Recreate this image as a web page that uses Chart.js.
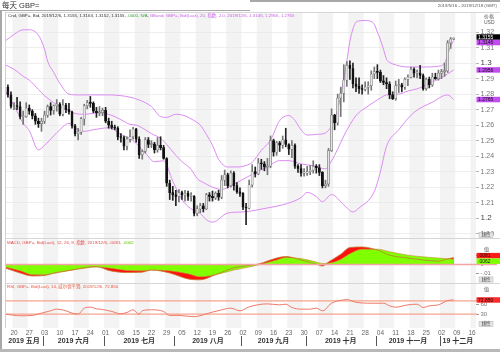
<!DOCTYPE html>
<html>
<head>
<meta charset="utf-8">
<script src="https://cdn.jsdelivr.net/npm/chart.js@4.4.1/dist/chart.umd.min.js"></script>
<style>
  html, body { margin: 0; padding: 0; background: #fff; }
  #wrap { position: relative; width: 500px; height: 352px; overflow: hidden; background: #fff; }
  #wrap canvas { position: absolute; left: 0; }
  .ln { position: absolute; pointer-events: none; }
</style>
</head>
<body>
<div id="wrap">
  <canvas id="c-main" width="500" height="238" style="top:0"></canvas>
  <canvas id="c-macd" width="500" height="46" style="top:238px"></canvas>
  <canvas id="c-rsi" width="500" height="68" style="top:284px"></canvas>
  <!-- frame -->
  <div class="ln" style="left:0;top:9.5px;width:250px;height:1.5px;background:#a8a8a8"></div>
  <div class="ln" style="left:250px;top:0;width:250px;height:1.5px;background:#a8a8a8"></div>
  <div class="ln" style="left:0;top:9.5px;width:2px;height:343px;background:#a8a8a8"></div>
  <div class="ln" style="left:5px;top:12px;width:495px;height:1px;background:#d6d6d6"></div>
  <div class="ln" style="left:5px;top:12px;width:1px;height:316px;background:#d0d0d0"></div>
  <div class="ln" style="left:5px;top:238px;width:495px;height:1px;background:#d6d6d6"></div>
  <div class="ln" style="left:5px;top:283px;width:495px;height:1px;background:#d6d6d6"></div>
  <div class="ln" style="left:0;top:349px;width:500px;height:3px;background:#b8b8b8"></div>
</div>
<script>
// ============================================================
// GBP= daily candles + BBand / MACD / RSI panels
// ============================================================
const FONT = '"Liberation Sans", Arial, "Noto Sans CJK SC", sans-serif';

// ── Candles (day 0 = 2019/5/16, weekdays only) ───────────────
const OPEN = [
  1.2845,1.2795,1.2720,1.2725,1.2720,1.2655,1.2655,1.2710,1.2690,1.2660,
  1.2625,1.2610,1.2625,1.2665,1.2720,1.2695,1.2725,1.2735,1.2670,1.2730,
  1.2700,1.2685,1.2595,1.2545,1.2555,1.2640,1.2725,1.2745,1.2740,1.2690,
  1.2680,1.2680,1.2695,1.2625,1.2600,1.2585,1.2580,1.2525,1.2520,1.2465,
  1.2510,1.2525,1.2575,1.2510,1.2410,1.2430,1.2505,1.2475,1.2480,1.2440,
  1.2470,1.2455,1.2385,1.2225,1.2165,1.2150,1.2140,1.2165,1.2150,1.2160,
  1.2140,1.2140,1.2030,1.2060,1.2080,1.2060,1.2150,1.2140,1.2130,1.2160,
  1.2135,1.2245,1.2280,1.2210,1.2290,1.2210,1.2170,1.2160,1.2070,1.2065,
  1.2215,1.2300,1.2285,1.2355,1.2350,1.2330,1.2335,1.2500,1.2425,1.2485,
  1.2470,1.2505,1.2475,1.2445,1.2470,1.2335,1.2320,1.2290,1.2290,1.2300,
  1.2310,1.2335,1.2325,1.2295,1.2210,1.2220,1.2435,1.2665,1.2615,1.2775,
  1.2805,1.2890,1.2985,1.2965,1.2865,1.2850,1.2835,1.2830,1.2845,1.2855,
  1.2930,1.2945,1.2940,1.2885,1.2875,1.2865,1.2795,1.2770,1.2855,1.2860,
  1.2845,1.2895,1.2910,1.2960,1.2935,1.2935,1.2920,1.2835,1.2895,1.2860,
  1.2910,1.2900,1.2935,1.2945,1.2950,1.3130,1.3155];
const HIGH = [
  1.2860,1.2815,1.2745,1.2780,1.2750,1.2690,1.2745,1.2730,1.2700,1.2675,
  1.2645,1.2645,1.2690,1.2730,1.2745,1.2730,1.2765,1.2745,1.2765,1.2740,
  1.2740,1.2690,1.2605,1.2580,1.2650,1.2735,1.2760,1.2785,1.2750,1.2715,
  1.2720,1.2710,1.2715,1.2645,1.2625,1.2600,1.2590,1.2545,1.2530,1.2525,
  1.2570,1.2585,1.2580,1.2525,1.2440,1.2520,1.2520,1.2500,1.2490,1.2520,
  1.2525,1.2470,1.2390,1.2245,1.2205,1.2180,1.2185,1.2175,1.2180,1.2175,
  1.2165,1.2145,1.2080,1.2095,1.2095,1.2160,1.2165,1.2175,1.2170,1.2180,
  1.2275,1.2310,1.2290,1.2305,1.2300,1.2230,1.2195,1.2165,1.2095,1.2245,
  1.2345,1.2330,1.2385,1.2380,1.2365,1.2385,1.2530,1.2510,1.2495,1.2495,
  1.2530,1.2580,1.2480,1.2500,1.2480,1.2345,1.2345,1.2320,1.2335,1.2340,
  1.2370,1.2345,1.2345,1.2300,1.2245,1.2450,1.2705,1.2670,1.2800,1.2845,
  1.2990,1.3010,1.3015,1.3000,1.2905,1.2905,1.2860,1.2880,1.2880,1.2950,
  1.2975,1.2990,1.2955,1.2920,1.2905,1.2880,1.2815,1.2885,1.2895,1.2870,
  1.2905,1.2925,1.2975,1.2970,1.2955,1.2985,1.2930,1.2905,1.2910,1.2935,
  1.2935,1.2955,1.2960,1.3000,1.3145,1.3165,1.3163];
const LOW = [
  1.2780,1.2710,1.2700,1.2700,1.2640,1.2605,1.2650,1.2670,1.2640,1.2605,
  1.2585,1.2560,1.2610,1.2650,1.2665,1.2670,1.2690,1.2660,1.2660,1.2680,
  1.2670,1.2580,1.2530,1.2505,1.2540,1.2600,1.2705,1.2715,1.2680,1.2650,
  1.2660,1.2660,1.2615,1.2580,1.2575,1.2570,1.2505,1.2490,1.2440,1.2440,
  1.2490,1.2510,1.2490,1.2385,1.2380,1.2420,1.2455,1.2455,1.2420,1.2425,
  1.2440,1.2380,1.2205,1.2120,1.2115,1.2080,1.2105,1.2120,1.2110,1.2115,
  1.2110,1.2015,1.2015,1.2035,1.2040,1.2055,1.2110,1.2110,1.2120,1.2115,
  1.2125,1.2210,1.2195,1.2200,1.2180,1.2160,1.2140,1.2055,1.1958,1.2060,
  1.2200,1.2265,1.2280,1.2315,1.2305,1.2280,1.2325,1.2400,1.2405,1.2430,
  1.2450,1.2460,1.2410,1.2390,1.2320,1.2295,1.2270,1.2270,1.2275,1.2280,
  1.2290,1.2290,1.2275,1.2195,1.2195,1.2205,1.2430,1.2570,1.2600,1.2655,
  1.2750,1.2850,1.2895,1.2840,1.2815,1.2805,1.2800,1.2820,1.2800,1.2825,
  1.2900,1.2900,1.2875,1.2860,1.2835,1.2770,1.2765,1.2760,1.2810,1.2815,
  1.2830,1.2855,1.2905,1.2910,1.2905,1.2900,1.2825,1.2825,1.2840,1.2850,
  1.2895,1.2890,1.2900,1.2915,1.2940,1.3095,1.3152];
const CLOSE = [
  1.2795,1.2720,1.2725,1.2720,1.2655,1.2655,1.2710,1.2690,1.2660,1.2625,
  1.2610,1.2625,1.2665,1.2720,1.2695,1.2725,1.2735,1.2670,1.2730,1.2700,
  1.2685,1.2595,1.2545,1.2555,1.2640,1.2725,1.2745,1.2740,1.2690,1.2680,
  1.2680,1.2695,1.2625,1.2600,1.2585,1.2580,1.2525,1.2520,1.2465,1.2510,
  1.2525,1.2575,1.2510,1.2410,1.2430,1.2505,1.2475,1.2480,1.2440,1.2470,
  1.2455,1.2385,1.2225,1.2165,1.2150,1.2140,1.2165,1.2150,1.2160,1.2140,
  1.2140,1.2030,1.2060,1.2080,1.2060,1.2150,1.2140,1.2130,1.2160,1.2135,
  1.2245,1.2280,1.2210,1.2290,1.2210,1.2170,1.2160,1.2070,1.2065,1.2215,
  1.2300,1.2285,1.2355,1.2350,1.2330,1.2335,1.2500,1.2425,1.2485,1.2470,
  1.2505,1.2475,1.2445,1.2470,1.2335,1.2320,1.2290,1.2290,1.2300,1.2310,
  1.2335,1.2325,1.2295,1.2210,1.2220,1.2435,1.2665,1.2615,1.2775,1.2805,
  1.2890,1.2985,1.2965,1.2865,1.2850,1.2835,1.2830,1.2845,1.2855,1.2930,
  1.2945,1.2940,1.2885,1.2875,1.2865,1.2795,1.2770,1.2855,1.2860,1.2845,
  1.2895,1.2910,1.2960,1.2935,1.2935,1.2920,1.2835,1.2895,1.2860,1.2910,
  1.2900,1.2935,1.2945,1.2950,1.3130,1.3155,1.3155];

// ── Bollinger bands (20, 2.0), read at sample days ───────────
const UPPER_DAY = [-1,2,5,7,10,12,13,15,17,20,23,27,33,37,40,43,47,50,52,55,58,60,63,65,67,69,72,75,78,80,83,86,89,92,94,96,98,101,104,106,108,109,110,111,112,113,114,115,117,119,120,121,122,123,124,125,126,131,136,141,143,144,145,146];
const UPPER = [1.3140,1.3185,1.3215,1.3215,1.3180,1.3090,1.3013,1.2940,1.2870,1.2800,1.2795,1.2795,1.2795,1.2790,1.2780,1.2762,1.2720,1.2655,1.2650,1.2670,1.2660,1.2640,1.2600,1.2540,1.2470,1.2380,1.2330,1.2330,1.2340,1.2360,1.2437,1.2503,1.2629,1.2662,1.2630,1.2570,1.2536,1.2540,1.2550,1.2596,1.2700,1.2790,1.2900,1.3013,1.3140,1.3220,1.3265,1.3272,1.3275,1.3268,1.3250,1.3200,1.3150,1.3090,1.3025,1.3005,1.2995,1.2975,1.2975,1.2980,1.3000,1.3050,1.3110,1.3146];
const MID_DAY = [-1,2,5,7,10,12,15,17,20,22,25,30,32,35,37,40,42,45,47,50,52,55,57,60,62,64,67,70,74,79,85,89,92,96,100,104,106,108,110,114,117,120,122,124,128,131,134,136,139,141,144,146];
const MID = [1.2990,1.2960,1.2915,1.2890,1.2830,1.2790,1.2745,1.2720,1.2695,1.2675,1.2670,1.2680,1.2675,1.2655,1.2635,1.2605,1.2600,1.2570,1.2545,1.2515,1.2475,1.2405,1.2365,1.2315,1.2255,1.2230,1.2200,1.2185,1.2219,1.2272,1.2331,1.2371,1.2371,1.2350,1.2338,1.2318,1.2370,1.2445,1.2530,1.2662,1.2710,1.2750,1.2775,1.2795,1.2800,1.2820,1.2834,1.2850,1.2880,1.2895,1.2930,1.2956];
const LOWER_DAY = [-1,2,5,7,10,12,15,17,20,22,25,28,33,37,41,45,48,51,54,57,60,63,65,67,72,77,85,90,96,98,101,103,106,110,113,115,120,122,124,128,133,139,144,146];
const LOWER = [1.2825,1.2726,1.2613,1.2564,1.2440,1.2470,1.2530,1.2570,1.2612,1.2580,1.2560,1.2570,1.2583,1.2540,1.2500,1.2420,1.2364,1.2370,1.2238,1.2120,1.2060,1.2030,1.1990,1.1974,1.2033,1.2040,1.2066,1.2086,1.2132,1.2166,1.2139,1.2106,1.2152,1.2086,1.2040,1.2066,1.2172,1.2300,1.2464,1.2570,1.2682,1.2748,1.2795,1.2765];

// ── MACD (12, 26, 9) ──────────────────────────────────────────
const MACD_DAY = [-1,4,8,12,15,21,26,29,33,39,44,47,53,59,63,68,74,79,82,88,91,96,101,103,105,109,112,116,121,125,131,136,141,144,146];
const MACD   = [-0.0040,-0.0100,-0.0135,-0.0130,-0.0100,-0.0065,-0.0030,-0.0025,-0.0070,-0.0095,-0.0090,-0.0065,-0.0100,-0.0170,-0.0180,-0.0120,-0.0040,-0.0010,0.0005,0.0076,0.0094,0.0053,0.0005,-0.0018,0.0030,0.0120,0.0200,0.0206,0.0170,0.0110,0.0076,0.0053,0.0040,0.0065,0.0081];
const SIGNAL = [-0.0030,-0.0075,-0.0120,-0.0120,-0.0105,-0.0065,-0.0040,-0.0030,-0.0040,-0.0070,-0.0075,-0.0065,-0.0075,-0.0110,-0.0145,-0.0120,-0.0065,-0.0030,-0.0006,0.0052,0.0082,0.0070,0.0030,0.0012,0.0015,0.0060,0.0125,0.0180,0.0180,0.0150,0.0110,0.0090,0.0076,0.0068,0.0062];

// ── RSI (14) ──────────────────────────────────────────────────
const RSI_DAY = [-1,4,8,11,14,16,19,21,23,25,27,29,31,34,37,39,41,43,44,47,51,53,56,61,64,67,70,73,76,79,85,89,91,93,96,99,101,103,104,105,106,108,110,111,112,114,119,123,125,127,131,134,136,138,141,144,146];
const RSI = [30,25,26,33,40,45,40,33,30,48,51,46,44,38,31,35,43,30,40,43,38,26,26,22,28,36,43,48,40,52,61,58,60,50,45,45,48,40,44,55,63,70,73,75,72,66,63,63,55,51,58,60,50,55,58,71,72.85];
const RSI_LEVELS = [70, 30];

// ── Axis labels ───────────────────────────────────────────────
const PRICE_TICKS = [1.19,1.20,1.21,1.22,1.23,1.24,1.25,1.26,1.27,1.28,1.29,1.30,1.31,1.32];
const MACD_TICKS  = [-0.01, 0, 0.01];
const RSI_TICKS   = [30, 60];
const WEEK_LABELS = ['20','27','03','10','17','24','01','08','15','22','29','05','12','19','26','02','09','16','23','30','07','14','21','28','04','11','18','25','02','09','16'];
const MONTH_LABELS = ['2019 五月','2019 六月','2019 七月','2019 八月','2019 九月','2019 十月','2019 十一月','19 十二月'];
const MONTH_START  = [-1, 12, 32, 55, 77, 98, 121, 142];
const WEEK_DAYS = WEEK_LABELS.map((_, i) => 2 + 5 * i);   // Mondays

const X_MIN = -0.95, X_MAX = 153.3;
const BB_COLOR = '#dc8cf2';

// ── Helpers ───────────────────────────────────────────────────
const pts = (days, vals) => days.map((d, i) => ({ x: d, y: vals[i] }));
const isMajor = c => !!(c && c.tick) && Math.round(c.tick.value * 100) % 10 === 0;

function fixY(scale) {
  scale.width = 24;
  scale.paddingTop = 0;
  scale.paddingBottom = 0;
}

function xScale(show) {
  return {
    type: 'linear', min: X_MIN, max: X_MAX, offset: false, display: show,
    grid: { display: false, drawTicks: false }, border: { display: false },
  };
}

function makeStripes(top, bottom) {
  return {
    id: 'stripes',
    beforeDraw(chart) {
      const { ctx, chartArea: a, scales: { x } } = chart;
      ctx.save();
      ctx.fillStyle = '#fff';
      ctx.fillRect(0, 0, chart.width, chart.height);
      ctx.fillStyle = '#f3f3f3';
      WEEK_DAYS.forEach((d, i) => {
        if (i % 2) return;
        const x0 = Math.max(x.getPixelForValue(d - 0.5), a.left);
        const x1 = Math.min(x.getPixelForValue(d + 4.5), a.right);
        if (x1 > x0) ctx.fillRect(x0, top, x1 - x0, bottom - top);
      });
      ctx.restore();
    },
  };
}

function drawSegments(ctx, x, y, segs, size) {
  ctx.font = `${size}px ${FONT}`;
  ctx.textBaseline = 'middle';
  ctx.textAlign = 'left';
  segs.forEach(([t, c]) => {
    ctx.fillStyle = c;
    ctx.fillText(t, x, y);
    x += ctx.measureText(t).width;
  });
}

// value tags on the right axis, pushed apart when they overlap
function drawTags(ctx, scale, tags) {
  const h = 5.5;
  const items = tags.map(t => ({ ...t, y: scale.getPixelForValue(t.v) })).sort((a, b) => a.y - b.y);
  for (let i = 1; i < items.length; i++) {
    const gap = items[i].y - items[i - 1].y;
    if (gap < h) {
      const d = (h - gap) / 2;
      items[i - 1].y -= d; items[i].y += d;
    }
  }
  ctx.font = `5px ${FONT}`;
  ctx.textBaseline = 'middle';
  ctx.textAlign = 'left';
  items.forEach(t => {
    ctx.fillStyle = t.bg;
    ctx.fillRect(476.5, t.y - h / 2, 23.5, h);
    ctx.fillStyle = t.fg;
    ctx.fillText(t.text, 478, t.y + 0.3);
  });
}

function drawAxisNote(ctx, text, y) {
  ctx.font = `5px ${FONT}`;
  ctx.textBaseline = 'middle';
  ctx.textAlign = 'left';
  ctx.fillStyle = '#555';
  ctx.fillText(text, 484, y);
}

function drawScaleBox(ctx, y) {
  ctx.fillStyle = '#e6e6e6';
  ctx.fillRect(479, y - 2.6, 14, 5.2);
  ctx.strokeStyle = '#b0b0b0';
  ctx.lineWidth = 0.5;
  ctx.strokeRect(479, y - 2.6, 14, 5.2);
  ctx.font = `4.6px ${FONT}`;
  ctx.textBaseline = 'middle';
  ctx.textAlign = 'left';
  ctx.fillStyle = '#444';
  ctx.fillText('线性', 481.5, y + 0.2);
}

const baseOpts = (padding) => ({
  responsive: false,
  animation: false,
  devicePixelRatio: 1,
  layout: { padding },
  plugins: { legend: { display: false }, tooltip: { enabled: false } },
});

const last = a => a[a.length - 1];

// ── Main price panel ──────────────────────────────────────────
const mainText = {
  id: 'mainText',
  afterDraw(chart) {
    const { ctx, scales: { y } } = chart;
    ctx.save();
    ctx.font = `7.5px ${FONT}`;
    ctx.textBaseline = 'middle';
    ctx.fillStyle = '#333';
    ctx.fillText('每天 GBP=', 2, 5.5);
    ctx.font = `4.4px ${FONT}`;
    ctx.textAlign = 'right';
    ctx.fillStyle = '#555';
    ctx.fillText('2019/5/16 - 2019/12/18 (GMT)', 497, 6);

    const n = CLOSE.length - 1;
    drawSegments(ctx, 8, 15.5, [
      [`Cnd, GBP=, Bid, 2019/12/6, ${OPEN[n].toFixed(4)}, ${HIGH[n].toFixed(4)}, ${LOW[n].toFixed(4)}, ${CLOSE[n].toFixed(4)}, `, '#333'],
      ['.0000, N/A, ', '#3c9c3c'],
      [`BBand, GBP=, Bid(Last), 20, 指数, 2.0, 2019/12/6, ${last(UPPER).toFixed(4)}, ${last(MID).toFixed(4)}, ${last(LOWER).toFixed(4)}`, '#c860e8'],
    ], 4.4);

    drawAxisNote(ctx, '价格', 17);
    drawAxisNote(ctx, 'USD', 22.5);
    drawTags(ctx, y, [
      { v: CLOSE[n], text: CLOSE[n].toFixed(4), bg: '#000', fg: '#fff' },
      { v: last(UPPER), text: last(UPPER).toFixed(4), bg: '#c24cf0', fg: '#111' },
      { v: last(MID), text: last(MID).toFixed(4), bg: '#c24cf0', fg: '#111' },
      { v: last(LOWER), text: last(LOWER).toFixed(4), bg: '#c24cf0', fg: '#111' },
    ]);
    drawScaleBox(ctx, 235);
    ctx.restore();
  },
};

const upCol = OPEN.map((o, i) => CLOSE[i] >= o);

new Chart(document.getElementById('c-main'), {
  type: 'bar',
  data: {
    datasets: [
      { type: 'line', label: 'BB upper', data: pts(UPPER_DAY, UPPER), borderColor: BB_COLOR, borderWidth: 1, pointRadius: 0, cubicInterpolationMode: 'monotone', order: 5 },
      { type: 'line', label: 'BB mid',   data: pts(MID_DAY, MID),     borderColor: BB_COLOR, borderWidth: 1, pointRadius: 0, cubicInterpolationMode: 'monotone', order: 5 },
      { type: 'line', label: 'BB lower', data: pts(LOWER_DAY, LOWER), borderColor: BB_COLOR, borderWidth: 1, pointRadius: 0, cubicInterpolationMode: 'monotone', order: 5 },
      {
        label: 'wick',
        data: CLOSE.map((c, i) => ({ x: i, y: [LOW[i], HIGH[i]] })),
        backgroundColor: upCol.map(u => u ? '#777' : '#222'),
        barThickness: 1, grouped: false, order: 2,
      },
      {
        label: 'body',
        data: CLOSE.map((c, i) => ({ x: i, y: [OPEN[i], c] })),
        backgroundColor: upCol.map(u => u ? '#e4e4e4' : '#111'),
        borderColor: upCol.map(u => u ? '#666' : '#111'),
        borderWidth: 0.5, borderSkipped: false,
        barThickness: 2.2, minBarLength: 1, grouped: false, order: 1,
      },
    ],
  },
  options: {
    ...baseOpts({ left: 5, right: 0, top: 20, bottom: 2 }),
    scales: {
      x: xScale(false),
      y: {
        position: 'right', min: 1.18848, max: 1.32781,
        afterFit: fixY,
        afterBuildTicks: s => { s.ticks = PRICE_TICKS.map(v => ({ value: v })); },
        grid: { color: '#e6e6e6', lineWidth: 0.7, drawTicks: true, tickLength: 3, tickColor: '#999' },
        border: { display: false },
        ticks: {
          autoSkip: false, padding: 1.5,
          color: c => (isMajor(c) ? '#444' : '#777'),
          font: c => ({ family: FONT, size: isMajor(c) ? 8 : 7 }),
          callback: v => v.toFixed(2).replace(/0$/, ''),
        },
      },
    },
  },
  plugins: [makeStripes(12, 238), mainText],
});

// ── MACD panel ────────────────────────────────────────────────
const macdText = {
  id: 'macdText',
  afterDraw(chart) {
    const { ctx, chartArea: a, scales: { y } } = chart;
    ctx.save();
    const y0 = y.getPixelForValue(0);
    ctx.strokeStyle = '#f4a4a4';
    ctx.lineWidth = 1.4;
    ctx.beginPath(); ctx.moveTo(a.left, y0); ctx.lineTo(497, y0); ctx.stroke();
    const m = last(MACD), s = last(SIGNAL);
    const fmt = v => v.toFixed(4).replace('0.', '.');
    drawSegments(ctx, 7, 4.5, [
      [`MACD, GBP=, Bid(Last), 12, 26, 9, 指数, 2019/12/6, ${fmt(m)}, `, '#e84a4a'],
      [fmt(s), '#5cc000'],
    ], 4.4);
    drawAxisNote(ctx, '值', 12);
    drawTags(ctx, y, [
      { v: m, text: fmt(m), bg: '#ff1a1a', fg: '#111' },
      { v: s, text: fmt(s), bg: '#80ff00', fg: '#111' },
    ]);
    drawScaleBox(ctx, 41.5);
    ctx.restore();
  },
};

new Chart(document.getElementById('c-macd'), {
  type: 'line',
  data: {
    datasets: [
      { label: 'MACD', data: pts(MACD_DAY, MACD), fill: 'origin', backgroundColor: '#ff1010', borderWidth: 0, pointRadius: 0, cubicInterpolationMode: 'monotone', order: 3 },
      { label: 'Signal', data: pts(MACD_DAY, SIGNAL), fill: 'origin', backgroundColor: '#7fff00', borderColor: '#d08a3a', borderWidth: 0.6, pointRadius: 0, cubicInterpolationMode: 'monotone', order: 2 },
      { label: 'MACD line', data: pts(MACD_DAY, MACD), fill: false, borderColor: '#c47a30', borderWidth: 0.8, pointRadius: 0, cubicInterpolationMode: 'monotone', order: 1 },
    ],
  },
  options: {
    ...baseOpts({ left: 5, right: 0, top: 8, bottom: 3 }),
    scales: {
      x: xScale(false),
      y: {
        position: 'right', min: -0.01941, max: 0.02176,
        afterFit: fixY,
        afterBuildTicks: s => { s.ticks = MACD_TICKS.map(v => ({ value: v })); },
        grid: { drawOnChartArea: false, drawTicks: true, tickLength: 3, tickColor: '#999' },
        border: { display: false },
        ticks: {
          autoSkip: false, padding: 1.5, color: '#777', font: { family: FONT, size: 6 },
          callback: v => (v === 0 ? '0' : v.toFixed(2).replace('0.', '.')),
        },
      },
    },
  },
  plugins: [makeStripes(0, 46), macdText],
});

// ── RSI panel + date axis ─────────────────────────────────────
const rsiText = {
  id: 'rsiText',
  beforeDatasetsDraw(chart) {
    const { ctx, chartArea: a, scales: { y } } = chart;
    ctx.save();
    ctx.strokeStyle = '#f6a48e';
    ctx.lineWidth = 1.3;
    RSI_LEVELS.forEach(v => {
      const yy = y.getPixelForValue(v);
      ctx.beginPath(); ctx.moveTo(a.left, yy); ctx.lineTo(a.right + 1, yy); ctx.stroke();
    });
    ctx.restore();
  },
  afterDraw(chart) {
    const { ctx, chartArea: a, scales: { x, y } } = chart;
    ctx.save();
    const r = last(RSI);
    drawSegments(ctx, 7, 2.8, [
      [`RSI, GBP=, Bid(Last), 14, 威尔德平滑, 2019/12/6, ${r.toFixed(3)}`, '#e8583e'],
    ], 4.4);
    drawAxisNote(ctx, '值', 6);
    drawTags(ctx, y, [{ v: r, text: r.toFixed(3), bg: '#ff2a2a', fg: '#111' }]);
    drawScaleBox(ctx, 40);

    // month row
    ctx.font = `bold 7px ${FONT}`;
    ctx.textBaseline = 'middle';
    ctx.textAlign = 'center';
    ctx.fillStyle = '#333';
    ctx.strokeStyle = '#555';
    ctx.lineWidth = 1;
    MONTH_LABELS.forEach((m, i) => {
      const x0 = Math.max(x.getPixelForValue(MONTH_START[i] - 0.5), a.left);
      const x1 = i < MONTH_LABELS.length - 1 ? x.getPixelForValue(MONTH_START[i + 1] - 0.5) : a.right;
      ctx.fillText(m, (x0 + x1) / 2, 57);
      if (i > 0) {
        ctx.beginPath(); ctx.moveTo(Math.round(x0) + 0.5, 52); ctx.lineTo(Math.round(x0) + 0.5, 62); ctx.stroke();
      }
    });
    ctx.restore();
  },
};

new Chart(document.getElementById('c-rsi'), {
  type: 'line',
  data: {
    datasets: [
      { label: 'RSI', data: pts(RSI_DAY, RSI), borderColor: '#f07868', borderWidth: 1, pointRadius: 0, cubicInterpolationMode: 'monotone' },
    ],
  },
  options: {
    ...baseOpts({ left: 5, right: 0, top: 7, bottom: 0 }),
    scales: {
      x: {
        ...xScale(true),
        afterBuildTicks: s => { s.ticks = WEEK_DAYS.map(v => ({ value: v })); },
        afterFit: s => { s.height = 28; s.paddingLeft = 0; s.paddingRight = 0; },
        ticks: {
          autoSkip: false, maxRotation: 0, padding: 5, color: '#666',
          font: { family: FONT, size: 6.5 },
          callback: (v, i) => WEEK_LABELS[i],
        },
      },
      y: {
        position: 'right', min: 0, max: 100,
        afterFit: fixY,
        afterBuildTicks: s => { s.ticks = RSI_TICKS.map(v => ({ value: v })); },
        grid: { drawOnChartArea: false, drawTicks: true, tickLength: 3, tickColor: '#999' },
        border: { display: false },
        ticks: { autoSkip: false, padding: 1.5, color: '#777', font: { family: FONT, size: 6 } },
      },
    },
  },
  plugins: [makeStripes(0, 44), rsiText],
});
</script>
</body>
</html>
